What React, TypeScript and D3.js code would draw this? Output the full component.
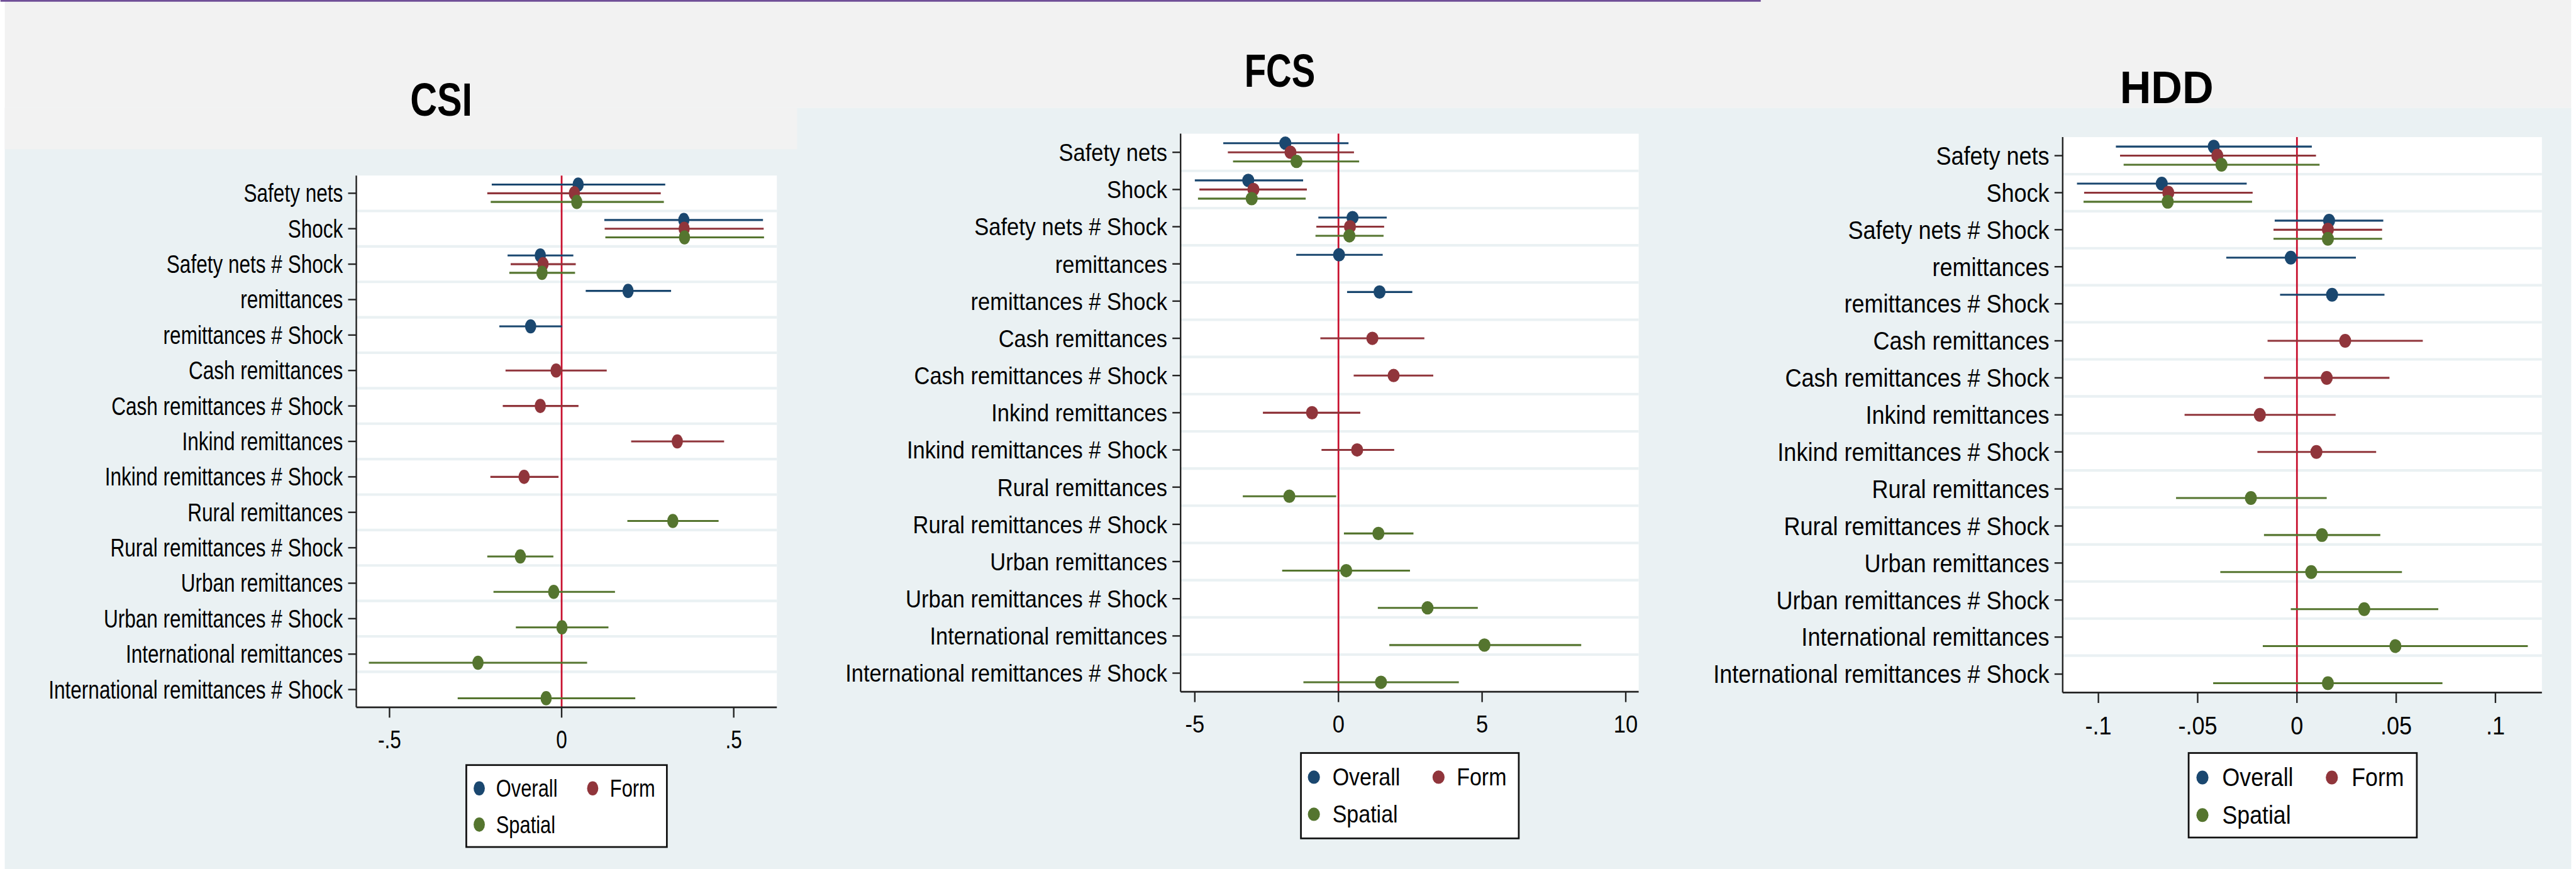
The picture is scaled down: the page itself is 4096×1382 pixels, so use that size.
import * as d3 from 'd3';

// rows of the coefficient plot, top to bottom
const categories = [
  'Safety nets',
  'Shock',
  'Safety nets # Shock',
  'remittances',
  'remittances # Shock',
  'Cash remittances',
  'Cash remittances # Shock',
  'Inkind remittances',
  'Inkind remittances # Shock',
  'Rural remittances',
  'Rural remittances # Shock',
  'Urban remittances',
  'Urban remittances # Shock',
  'International remittances',
  'International remittances # Shock',
];

const seriesNames = ['Overall', 'Form', 'Spatial'];
const seriesColors = ['#1a476f', '#90353b', '#55752f'];

// [row, lower CI, estimate, upper CI]
type Est = [string, number, number, number];

const csiOverall: Est[] = [
  ['Safety nets', -0.203, 0.048, 0.301],
  ['Shock', 0.124, 0.355, 0.585],
  ['Safety nets # Shock', -0.157, -0.062, 0.034],
  ['remittances', 0.07, 0.193, 0.318],
  ['remittances # Shock', -0.181, -0.09, 0.001],
];
const csiForm: Est[] = [
  ['Safety nets', -0.216, 0.037, 0.288],
  ['Shock', 0.125, 0.356, 0.587],
  ['Safety nets # Shock', -0.148, -0.054, 0.041],
  ['Cash remittances', -0.163, -0.016, 0.131],
  ['Cash remittances # Shock', -0.171, -0.062, 0.049],
  ['Inkind remittances', 0.202, 0.336, 0.472],
  ['Inkind remittances # Shock', -0.207, -0.109, -0.009],
];
const csiSpatial: Est[] = [
  ['Safety nets', -0.206, 0.044, 0.297],
  ['Shock', 0.127, 0.357, 0.588],
  ['Safety nets # Shock', -0.152, -0.057, 0.039],
  ['Rural remittances', 0.191, 0.323, 0.456],
  ['Rural remittances # Shock', -0.216, -0.12, -0.024],
  ['Urban remittances', -0.198, -0.023, 0.155],
  ['Urban remittances # Shock', -0.133, 0.001, 0.136],
  ['International remittances', -0.56, -0.243, 0.074],
  ['International remittances # Shock', -0.302, -0.045, 0.214],
];

const fcsOverall: Est[] = [
  ['Safety nets', -4.01, -1.85, 0.35],
  ['Shock', -5.0, -3.14, -1.23],
  ['Safety nets # Shock', -0.7, 0.49, 1.68],
  ['remittances', -1.47, 0.02, 1.54],
  ['remittances # Shock', 0.3, 1.43, 2.57],
];
const fcsForm: Est[] = [
  ['Safety nets', -3.85, -1.67, 0.54],
  ['Shock', -4.84, -2.96, -1.1],
  ['Safety nets # Shock', -0.77, 0.4, 1.59],
  ['Cash remittances', -0.63, 1.18, 2.99],
  ['Cash remittances # Shock', 0.53, 1.92, 3.3],
  ['Inkind remittances', -2.63, -0.92, 0.76],
  ['Inkind remittances # Shock', -0.59, 0.65, 1.94],
];
const fcsSpatial: Est[] = [
  ['Safety nets', -3.67, -1.46, 0.72],
  ['Shock', -4.89, -3.02, -1.14],
  ['Safety nets # Shock', -0.8, 0.38, 1.57],
  ['Rural remittances', -3.33, -1.71, -0.08],
  ['Rural remittances # Shock', 0.19, 1.39, 2.61],
  ['Urban remittances', -1.96, 0.27, 2.49],
  ['Urban remittances # Shock', 1.37, 3.1, 4.85],
  ['International remittances', 1.77, 5.08, 8.45],
  ['International remittances # Shock', -1.22, 1.48, 4.19],
];

const hddOverall: Est[] = [
  ['Safety nets', -0.0912, -0.0419, 0.0075],
  ['Shock', -0.1108, -0.0681, -0.0253],
  ['Safety nets # Shock', -0.0112, 0.0162, 0.0435],
  ['remittances', -0.0356, -0.0031, 0.0297],
  ['remittances # Shock', -0.0085, 0.0177, 0.0441],
];
const hddForm: Est[] = [
  ['Safety nets', -0.0891, -0.0401, 0.0096],
  ['Shock', -0.1072, -0.0648, -0.0223],
  ['Safety nets # Shock', -0.0118, 0.0156, 0.0429],
  ['Cash remittances', -0.0148, 0.0243, 0.0634],
  ['Cash remittances # Shock', -0.0166, 0.015, 0.0466],
  ['Inkind remittances', -0.0566, -0.0187, 0.0195],
  ['Inkind remittances # Shock', -0.0199, 0.0098, 0.0399],
];
const hddSpatial: Est[] = [
  ['Safety nets', -0.0873, -0.038, 0.0114],
  ['Shock', -0.1075, -0.0651, -0.0226],
  ['Safety nets # Shock', -0.0118, 0.0156, 0.0429],
  ['Rural remittances', -0.0609, -0.0232, 0.015],
  ['Rural remittances # Shock', -0.0166, 0.0126, 0.042],
  ['Urban remittances', -0.0386, 0.0072, 0.0529],
  ['Urban remittances # Shock', -0.0031, 0.0339, 0.0712],
  ['International remittances', -0.0172, 0.0496, 0.1163],
  ['International remittances # Shock', -0.0422, 0.0156, 0.0733],
];

const csiTicks = [-0.5, 0, 0.5];
const csiTickLabels = ['-.5', '0', '.5'];
const fcsTicks = [-5, 0, 5, 10];
const fcsTickLabels = ['-5', '0', '5', '10'];
const hddTicks = [-0.1, -0.05, 0, 0.05, 0.1];
const hddTickLabels = ['-.1', '-.05', '0', '.05', '.1'];

// layout in reference pixels (5970 x 2015), scaled by the viewBox
const W = 5970;
const H = 2015;
const FONT = '"Liberation Sans", Arial, sans-serif';
const BG = '#eaf1f3';

const panels = [
  {
    title: 'CSI', titleX: 1022, titleY: 268, titleW: 144, titleSize: 107,
    left: 825, right: 1800, top: 407, bottom: 1640, domain: [-0.5965, 0.6253],
    ticks: csiTicks, tickLabels: csiTickLabels, tickLabelY: 1715,
    font: 46, k: 1.28, rx: 13, ry: 16.5,
    legend: { x0: 1080, y0: 1774, x1: 1545, y1: 1964, mx: [1110, 1373], tx: [1149, 1413], my: [1828, 1912], font: 45 },
    data: [csiOverall, csiForm, csiSpatial],
  },
  {
    title: 'FCS', titleX: 2966, titleY: 201, titleW: 164, titleSize: 107,
    left: 2736, right: 3798, top: 310, bottom: 1604, domain: [-5.495, 10.45],
    ticks: fcsTicks, tickLabels: fcsTickLabels, tickLabelY: 1679,
    font: 50.3, k: 1.15, rx: 14, ry: 15.5,
    legend: { x0: 3015, y0: 1746, x1: 3520, y1: 1944, mx: [3045, 3334], tx: [3088, 3376], my: [1802, 1888], font: 49.6 },
    data: [fcsOverall, fcsForm, fcsSpatial],
  },
  {
    title: 'HDD', titleX: 5022, titleY: 239, titleW: 217, titleSize: 106,
    left: 4781, right: 5892, top: 318, bottom: 1606, domain: [-0.118, 0.1234],
    ticks: hddTicks, tickLabels: hddTickLabels, tickLabelY: 1682,
    font: 52.5, k: 1.13, rx: 14, ry: 16,
    legend: { x0: 5073, y0: 1746, x1: 5602, y1: 1942, mx: [5105, 5405], tx: [5151, 5451], my: [1803, 1890], font: 52 },
    data: [hddOverall, hddForm, hddSpatial],
  },
];

type PanelCfg = (typeof panels)[number];

function Label({ x, y, k, size, anchor, children }: any) {
  return (
    <text
      transform={`translate(${x},${y}) scale(1,${k})`}
      fontSize={size}
      fontFamily={FONT}
      textAnchor={anchor}
      dominantBaseline="central"
      fill="#000"
    >
      {children}
    </text>
  );
}

function Panel({ p }: { p: PanelCfg }) {
  const x = d3.scaleLinear().domain(p.domain).range([p.left, p.right]);
  const y = d3.scaleBand().domain(categories).range([p.top, p.bottom]);
  const step = y.step();
  const cy = (c: string) => (y(c) as number) + step / 2;
  const offsets = [-0.245 * step, 0, 0.245 * step];
  const lg = p.legend;
  const legendPos = [
    [lg.mx[0], lg.tx[0], lg.my[0]],
    [lg.mx[1], lg.tx[1], lg.my[0]],
    [lg.mx[0], lg.tx[0], lg.my[1]],
  ];

  return (
    <g>
      <text
        x={p.titleX}
        y={p.titleY}
        fontSize={p.titleSize}
        fontWeight="bold"
        fontFamily={FONT}
        textAnchor="middle"
        textLength={p.titleW}
        lengthAdjust="spacingAndGlyphs"
      >
        {p.title}
      </text>

      {/* plot region */}
      <rect x={p.left} y={p.top} width={p.right - p.left} height={p.bottom - p.top} fill="#fff" />
      {categories.slice(1).map((c) => (
        <line key={c} x1={p.left} x2={p.right} y1={y(c)} y2={y(c)} stroke={BG} strokeWidth={6} />
      ))}

      {/* zero reference */}
      <line x1={x(0)} x2={x(0)} y1={p.top} y2={p.bottom} stroke="#c8102e" strokeWidth={4} />

      {p.data.map((rows, si) => (
        <g key={si}>
          {rows.map(([c, lo, b, hi]) => (
            <g key={c}>
              <line
                x1={x(lo)}
                x2={x(hi)}
                y1={cy(c) + offsets[si]}
                y2={cy(c) + offsets[si]}
                stroke={seriesColors[si]}
                strokeWidth={4.5}
              />
              <ellipse cx={x(b)} cy={cy(c) + offsets[si]} rx={p.rx} ry={p.ry} fill={seriesColors[si]} />
            </g>
          ))}
        </g>
      ))}

      {/* y axis */}
      <line x1={p.left} x2={p.left} y1={p.top} y2={p.bottom} stroke="#222" strokeWidth={3.5} />
      {categories.map((c) => (
        <g key={c}>
          <line x1={p.left - 19} x2={p.left} y1={cy(c)} y2={cy(c)} stroke="#222" strokeWidth={3.5} />
          <Label x={p.left - 31} y={cy(c)} k={p.k} size={p.font} anchor="end">
            {c}
          </Label>
        </g>
      ))}

      {/* x axis */}
      <line x1={p.left} x2={p.right} y1={p.bottom} y2={p.bottom} stroke="#222" strokeWidth={4} />
      {p.ticks.map((t, i) => (
        <g key={t}>
          <line x1={x(t)} x2={x(t)} y1={p.bottom} y2={p.bottom + 24} stroke="#222" strokeWidth={3.5} />
          <Label x={x(t)} y={p.tickLabelY} k={p.k} size={p.font} anchor="middle">
            {p.tickLabels[i]}
          </Label>
        </g>
      ))}

      {/* legend */}
      <rect
        x={lg.x0}
        y={lg.y0}
        width={lg.x1 - lg.x0}
        height={lg.y1 - lg.y0}
        fill="#fff"
        stroke="#111"
        strokeWidth={4}
      />
      {seriesNames.map((s, i) => (
        <g key={s}>
          <ellipse cx={legendPos[i][0]} cy={legendPos[i][2]} rx={p.rx} ry={p.ry} fill={seriesColors[i]} />
          <Label x={legendPos[i][1]} y={legendPos[i][2]} k={p.k} size={lg.font} anchor="start">
            {s}
          </Label>
        </g>
      ))}
    </g>
  );
}

export default function App() {
  return (
    <svg
      width={4096}
      height={1382}
      viewBox={`0 0 ${W} ${H}`}
      style={{ position: 'absolute', left: 0, top: 0, display: 'block' }}
    >
      <rect x={0} y={0} width={W} height={H} fill="#fff" />
      <rect x={10} y={0} width={W - 20} height={250} fill="#f2f2f2" />
      <rect x={10} y={250} width={W - 20} height={H - 250} fill={BG} />
      <rect x={10} y={250} width={1837} height={96} fill="#f2f2f2" />
      <rect x={0} y={0} width={4081} height={4} fill="#6f4e97" />
      {panels.map((p) => (
        <Panel key={p.title} p={p} />
      ))}
    </svg>
  );
}
